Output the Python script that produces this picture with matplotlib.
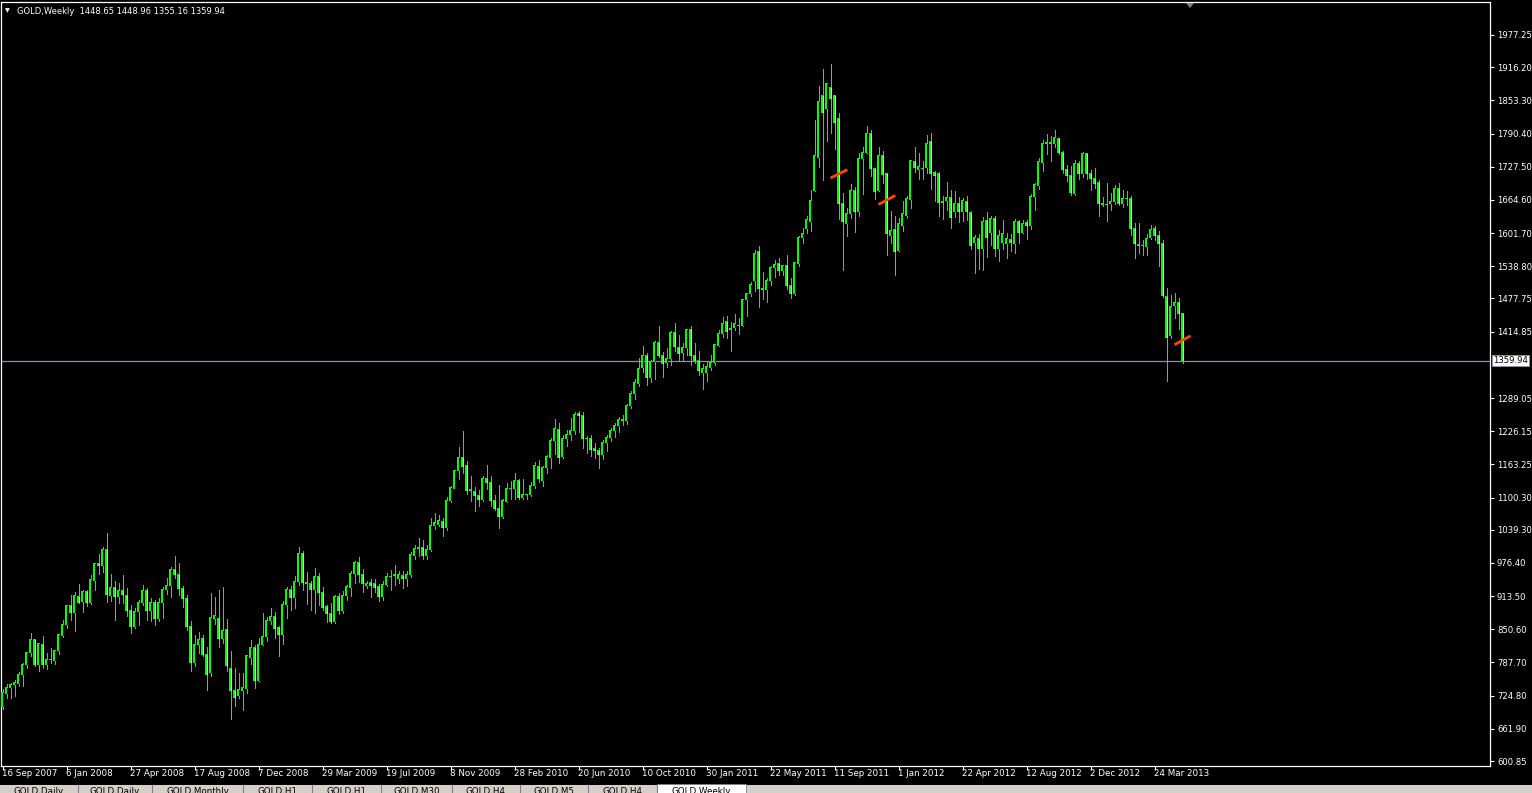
import matplotlib.pyplot as plt
from matplotlib.patches import Rectangle, Polygon

symbol = "GOLD,Weekly"
last_ohlc = "1448.65 1448.96 1355.16 1359.94"

opens = [705, 729, 741, 745, 748, 764, 783, 806, 831, 784, 821, 784, 793, 792, 810, 838, 859, 895, 882, 913,
         903, 922, 901, 944, 975, 971, 1002, 914, 929, 912, 924, 914, 886, 855, 885, 901, 924, 886, 901, 871,
         901, 926, 933, 964, 955, 928, 909, 855, 788, 821, 834, 803, 768, 871, 871, 833, 850, 776, 734, 725,
         735, 739, 798, 817, 754, 822, 836, 867, 874, 854, 841, 897, 926, 910, 942, 994, 940, 938, 926, 950,
         921, 893, 880, 866, 912, 886, 915, 929, 957, 978, 954, 933, 939, 938, 931, 912, 936, 951, 952, 947,
         952, 947, 955, 991, 1004, 1006, 990, 1001, 1047, 1049, 1054, 1043, 1095, 1118, 1151, 1176, 1161, 1115, 1112, 1105,
         1096, 1137, 1129, 1094, 1080, 1065, 1093, 1118, 1117, 1133, 1100, 1106, 1106, 1124, 1160, 1133, 1158, 1176, 1208, 1229,
         1179, 1213, 1219, 1227, 1260, 1255, 1212, 1212, 1193, 1189, 1181, 1204, 1215, 1227, 1237, 1248, 1246, 1275, 1297, 1317,
         1347, 1369, 1327, 1359, 1394, 1370, 1357, 1364, 1414, 1385, 1375, 1384, 1418, 1369, 1361, 1337, 1338, 1347, 1356, 1389,
         1411, 1435, 1421, 1423, 1427, 1427, 1475, 1487, 1511, 1567, 1496, 1494, 1512, 1536, 1544, 1530, 1540, 1502, 1487, 1544,
         1593, 1610, 1624, 1683, 1745, 1862, 1838, 1878, 1863, 1818, 1658, 1620, 1639, 1683, 1643, 1744, 1755, 1790, 1725, 1683,
         1748, 1714, 1598, 1609, 1569, 1616, 1635, 1665, 1738, 1722, 1725, 1726, 1776, 1716, 1715, 1661, 1663, 1670, 1643, 1658,
         1643, 1662, 1641, 1584, 1592, 1573, 1626, 1602, 1630, 1573, 1584, 1582, 1590, 1582, 1624, 1603, 1621, 1616, 1672, 1692,
         1735, 1772, 1774, 1772, 1781, 1755, 1722, 1711, 1677, 1733, 1715, 1752, 1715, 1705, 1697, 1658, 1655, 1657, 1662, 1687,
         1658, 1667, 1667, 1611, 1580, 1579, 1577, 1594, 1611, 1597, 1582, 1482, 1408, 1465, 1470, 1448.65]
highs = [737, 746, 749, 754, 770, 787, 808, 844, 833, 825, 838, 806, 816, 812, 842, 869, 897, 915, 922, 936,
         925, 926, 953, 977, 994, 1006, 1033, 955, 942, 939, 953, 928, 896, 890, 906, 935, 929, 909, 907, 909,
         930, 947, 968, 990, 976, 933, 915, 866, 839, 845, 840, 817, 920, 911, 926, 930, 871, 810, 778, 768,
         768, 802, 831, 820, 835, 881, 873, 890, 884, 857, 904, 930, 933, 952, 1006, 999, 959, 942, 966, 957,
         931, 897, 900, 915, 919, 924, 934, 961, 980, 988, 964, 943, 945, 945, 937, 943, 958, 963, 972, 962,
         961, 961, 998, 1011, 1024, 1019, 1011, 1062, 1071, 1067, 1061, 1101, 1122, 1152, 1196, 1227, 1170, 1142, 1120, 1114,
         1141, 1162, 1142, 1105, 1125, 1098, 1128, 1132, 1146, 1136, 1136, 1107, 1129, 1167, 1171, 1161, 1181, 1213, 1250, 1242,
         1218, 1228, 1251, 1262, 1265, 1262, 1217, 1219, 1204, 1194, 1209, 1219, 1232, 1242, 1253, 1257, 1278, 1302, 1325, 1365,
         1388, 1375, 1361, 1398, 1425, 1376, 1383, 1417, 1432, 1409, 1393, 1420, 1425, 1394, 1379, 1353, 1358, 1370, 1392, 1418,
         1442, 1445, 1433, 1449, 1440, 1477, 1489, 1509, 1570, 1577, 1527, 1516, 1539, 1551, 1554, 1541, 1560, 1516, 1547, 1597,
         1611, 1634, 1684, 1816, 1880, 1913, 1886, 1923, 1864, 1829, 1678, 1650, 1695, 1690, 1754, 1764, 1805, 1797, 1726, 1764,
         1758, 1715, 1643, 1634, 1631, 1662, 1672, 1740, 1764, 1754, 1738, 1787, 1791, 1719, 1717, 1672, 1698, 1684, 1681, 1670,
         1668, 1672, 1643, 1598, 1600, 1632, 1641, 1634, 1634, 1607, 1626, 1601, 1600, 1629, 1627, 1627, 1626, 1676, 1696, 1744,
         1778, 1790, 1785, 1797, 1782, 1757, 1730, 1729, 1740, 1739, 1755, 1754, 1722, 1725, 1703, 1670, 1697, 1677, 1693, 1696,
         1684, 1682, 1672, 1620, 1621, 1588, 1600, 1617, 1615, 1605, 1588, 1497, 1485, 1489, 1479, 1448.96]
lows = [700, 720, 720, 725, 743, 743, 777, 800, 781, 771, 777, 776, 787, 784, 803, 836, 853, 868, 847, 901,
        883, 895, 898, 925, 955, 959, 902, 904, 869, 901, 901, 876, 844, 853, 859, 897, 869, 866, 858, 866,
        872, 918, 912, 948, 916, 893, 849, 772, 781, 806, 800, 735, 762, 861, 817, 825, 772, 680, 705, 720,
        698, 729, 784, 739, 752, 820, 828, 860, 834, 800, 823, 872, 887, 890, 935, 925, 899, 888, 882, 897,
        888, 864, 863, 862, 880, 882, 906, 913, 939, 940, 921, 929, 911, 921, 904, 906, 933, 925, 935, 938,
        929, 933, 950, 984, 989, 983, 984, 999, 1041, 1046, 1027, 1039, 1091, 1118, 1136, 1146, 1108, 1094, 1074, 1085,
        1093, 1117, 1084, 1077, 1043, 1061, 1092, 1098, 1098, 1098, 1098, 1098, 1104, 1119, 1129, 1122, 1146, 1157, 1182, 1165,
        1175, 1198, 1210, 1221, 1224, 1195, 1184, 1179, 1175, 1156, 1174, 1189, 1208, 1215, 1225, 1237, 1240, 1270, 1288, 1312,
        1338, 1314, 1319, 1325, 1366, 1328, 1347, 1352, 1378, 1360, 1359, 1371, 1351, 1355, 1332, 1307, 1322, 1343, 1352, 1387,
        1404, 1403, 1379, 1418, 1411, 1425, 1444, 1483, 1492, 1461, 1477, 1472, 1503, 1518, 1523, 1523, 1496, 1478, 1485, 1540,
        1582, 1602, 1606, 1681, 1727, 1703, 1776, 1792, 1762, 1629, 1532, 1597, 1630, 1604, 1635, 1675, 1754, 1710, 1667, 1682,
        1697, 1560, 1583, 1522, 1567, 1605, 1631, 1650, 1717, 1705, 1705, 1716, 1686, 1663, 1634, 1629, 1645, 1612, 1632, 1623,
        1624, 1626, 1572, 1526, 1534, 1531, 1556, 1580, 1559, 1548, 1572, 1555, 1568, 1564, 1583, 1601, 1591, 1610, 1645, 1686,
        1720, 1752, 1738, 1764, 1752, 1716, 1700, 1674, 1673, 1705, 1708, 1705, 1684, 1688, 1635, 1653, 1625, 1645, 1656, 1655,
        1651, 1655, 1598, 1554, 1564, 1560, 1560, 1591, 1588, 1540, 1481, 1321, 1402, 1440, 1420, 1355.16]
closes = [730, 741, 745, 749, 764, 783, 806, 831, 784, 824, 784, 793, 793, 810, 840, 859, 895, 882, 914, 902,
          922, 901, 945, 975, 972, 1002, 916, 929, 912, 924, 916, 886, 855, 885, 901, 924, 886, 901, 871, 901,
          926, 933, 964, 954, 928, 909, 855, 787, 821, 831, 802, 764, 872, 876, 834, 848, 781, 734, 722, 736,
          741, 801, 817, 754, 821, 836, 867, 874, 852, 841, 897, 926, 910, 942, 994, 940, 938, 926, 950, 921,
          891, 880, 866, 912, 886, 915, 932, 957, 978, 954, 937, 938, 933, 930, 912, 935, 950, 950, 955, 954,
          947, 955, 992, 1004, 1006, 990, 1002, 1048, 1053, 1056, 1043, 1095, 1119, 1151, 1177, 1160, 1114, 1113, 1104, 1096,
          1137, 1129, 1094, 1080, 1065, 1094, 1118, 1118, 1133, 1100, 1106, 1106, 1124, 1162, 1136, 1158, 1179, 1208, 1232, 1176,
          1213, 1219, 1227, 1257, 1255, 1212, 1212, 1191, 1189, 1181, 1205, 1215, 1227, 1237, 1248, 1246, 1275, 1297, 1319, 1345,
          1369, 1327, 1359, 1394, 1369, 1354, 1364, 1414, 1387, 1374, 1385, 1418, 1369, 1360, 1341, 1345, 1348, 1356, 1390, 1411,
          1430, 1416, 1418, 1430, 1427, 1475, 1487, 1504, 1563, 1496, 1494, 1512, 1536, 1542, 1531, 1541, 1502, 1487, 1545, 1594,
          1601, 1627, 1664, 1748, 1852, 1830, 1885, 1856, 1812, 1657, 1624, 1639, 1683, 1643, 1744, 1755, 1790, 1725, 1681, 1748,
          1712, 1600, 1607, 1567, 1619, 1639, 1668, 1739, 1726, 1727, 1725, 1772, 1714, 1711, 1659, 1659, 1669, 1631, 1658, 1643,
          1664, 1643, 1579, 1594, 1573, 1624, 1593, 1629, 1573, 1597, 1600, 1591, 1584, 1624, 1602, 1620, 1616, 1672, 1693, 1738,
          1771, 1774, 1772, 1782, 1754, 1722, 1711, 1679, 1733, 1715, 1752, 1715, 1705, 1696, 1658, 1655, 1655, 1662, 1687, 1658,
          1667, 1667, 1610, 1582, 1579, 1578, 1592, 1608, 1597, 1582, 1483, 1403, 1463, 1470, 1449, 1359.94]

date_labels = ["16 Sep 2007", "6 Jan 2008", "27 Apr 2008", "17 Aug 2008", "7 Dec 2008", "29 Mar 2009",
               "19 Jul 2009", "8 Nov 2009", "28 Feb 2010", "20 Jun 2010", "10 Oct 2010", "30 Jan 2011",
               "22 May 2011", "11 Sep 2011", "1 Jan 2012", "22 Apr 2012", "12 Aug 2012", "2 Dec 2012",
               "24 Mar 2013"]
date_label_bars = [0, 16, 32, 48, 64, 80, 96, 112, 128, 144, 160, 176, 192, 208, 224, 240, 256, 272, 288]

price_ticks = [1977.25, 1916.20, 1853.30, 1790.40, 1727.50, 1664.60, 1601.70, 1538.80, 1477.75, 1414.85,
               1289.05, 1226.15, 1163.25, 1100.30, 1039.30, 976.40, 913.50, 850.60, 787.70, 724.80,
               661.90, 600.85]
bid = 1359.94

# short orange trend segments (bar index / price at both ends)
seg_x0 = [207, 219, 293]
seg_x1 = [211.2, 223.2, 297]
seg_y0 = [1706, 1656, 1390]
seg_y1 = [1722, 1673, 1407]

tab_names = ["GOLD,Daily", "GOLD,Daily", "GOLD,Monthly", "GOLD,H1", "GOLD,H1", "GOLD,M30",
             "GOLD,H4", "GOLD,M5", "GOLD,H4", "GOLD,Weekly"]

W, H = 1532, 793
fig = plt.figure(figsize=(W / 100, H / 100), dpi=100, facecolor='black')
ax = fig.add_axes([1 / W, (H - 766) / H, 1489 / W, 764 / H])
ax.set_facecolor('black')

y0, y1 = 591.4, 2039.8
px = (y1 - y0) / 764.0   # one pixel in price units

green = '#00ff00'
n = len(closes)
idx = list(range(n))

# wicks
ax.vlines(idx, lows, highs, colors=green, linewidth=0.72, antialiased=False, zorder=2)
# bodies: 3 px wide green box with a 1 px black (up) or white (down) core
for i in idx:
    o, c = opens[i], closes[i]
    lo, hi = min(o, c), max(o, c)
    ax.add_patch(Rectangle((i - 0.375, lo - 0.5 * px), 0.75, hi - lo + px, facecolor=green,
                           edgecolor='none', antialiased=False, zorder=3))
    if hi - lo > 1.5 * px:
        ax.vlines(i, lo + 0.5 * px, hi - 0.5 * px, colors='black' if c > o else 'white',
                  linewidth=0.72, antialiased=False, zorder=4)

for a, b, p, q in zip(seg_x0, seg_x1, seg_y0, seg_y1):
    ax.plot([a, b], [p, q], color='#ff4500', linewidth=2.0, solid_capstyle='butt', zorder=5)

ax.axhline(bid, color='#8794a8', linewidth=0.9, zorder=1)

ax.set_xlim(-0.375, 371.875)
ax.set_ylim(y0, y1)

for s in ax.spines.values():
    s.set_color('white')
    s.set_linewidth(0.9)

ax.yaxis.tick_right()
ax.set_yticks(price_ticks)
ax.set_yticklabels(['%.2f' % v for v in price_ticks])
ax.tick_params(axis='y', colors='white', labelsize=6.1, length=3, width=0.8, pad=2)
ax.set_xticks(date_label_bars)
ax.set_xticklabels([])
ax.tick_params(axis='x', colors='white', length=3, width=0.8, direction='out')
for b, lab in zip(date_label_bars, date_labels):
    ax.annotate(lab, xy=(b, 0), xycoords=('data', 'axes fraction'), xytext=(0, -7),
                textcoords='offset pixels', color='white', fontsize=6.3, ha='left', va='center')

# bid price box on the right scale
ax.annotate('%.2f' % bid, xy=(1, bid), xycoords=('axes fraction', 'data'), xytext=(3, 0),
            textcoords='offset pixels', color='black', fontsize=6.1, ha='left', va='center',
            bbox=dict(boxstyle='square,pad=0.15', facecolor='white', edgecolor='#8794a8', linewidth=0.6))

# header
fig.text(5 / W, 1 - 11 / H, '\u25bc', color='white', fontsize=4.5, va='center')
fig.text(17 / W, 1 - 11 / H, symbol + '  ' + last_ohlc, color='white', fontsize=6.0, va='center')

# chart shift marker
fig.patches.append(Polygon([[1186 / W, 1 - 3 / H], [1194 / W, 1 - 3 / H], [1190 / W, 1 - 8 / H]],
                           closed=True, transform=fig.transFigure, facecolor='#808080', edgecolor='none'))

# tab strip at the bottom
fig.patches.append(Rectangle((0, 0), 1, 8 / H, transform=fig.transFigure, facecolor='#d4d0c8',
                             edgecolor='none'))
tab_x = [0, 78, 152, 243, 312, 381, 452, 520, 588, 657, 746]
for k, name in enumerate(tab_names):
    x0, x1 = tab_x[k], tab_x[k + 1]
    if name == "GOLD,Weekly":
        fig.patches.append(Rectangle((x0 / W, 0), (x1 - x0) / W, 9 / H, transform=fig.transFigure,
                                     facecolor='white', edgecolor='#808080', linewidth=0.6))
    else:
        fig.lines.append(plt.Line2D([x1 / W, x1 / W], [0, 8 / H], transform=fig.transFigure,
                                    color='#808080', linewidth=0.8))
    fig.text((x0 + x1) / 2 / W, 6 / H, name, color='black', fontsize=6.3, ha='center', va='top')

fig.savefig('out.png', dpi=100, facecolor='black')
